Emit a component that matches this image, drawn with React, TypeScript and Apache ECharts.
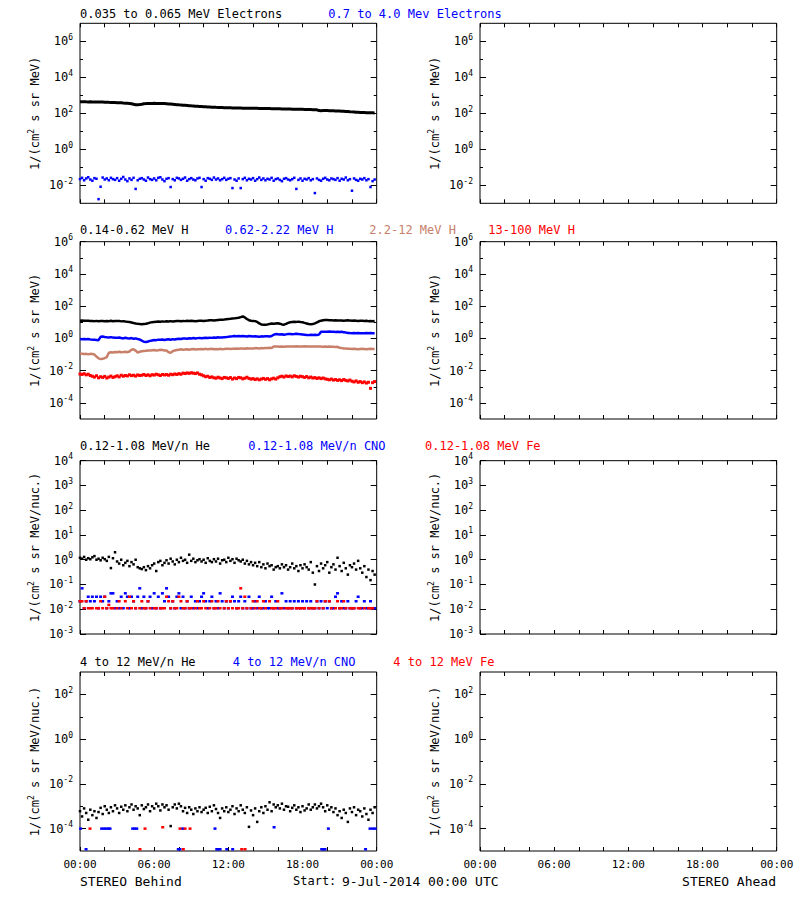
import { useEffect, useRef } from 'react';
import * as echarts from 'echarts';

const FONT = '"DejaVu Sans Mono", monospace';
const BLACK = '#000000';
const BLUE = '#0000ff';
const RED = '#ff0000';
const BROWN = '#c8806a';

// one sample every 10 minutes, 144 samples per day
const SAMPLE_HOURS = 1 / 6;

const xTickHours = [0, 6, 12, 18, 24];
const xTickLabels = ['00:00', '06:00', '12:00', '18:00', '00:00'];

// Row 1: electrons
const eLow: number[] = [
  440, 436, 438, 432, 430, 434,
  428, 430, 425, 422, 420, 418,
  415, 412, 405, 400, 396, 392,
  388, 384, 380, 372, 366, 360,
  350, 336, 315, 300, 296, 305,
  320, 336, 345, 350, 352, 355,
  356, 354, 352, 350, 348, 345,
  340, 332, 325, 318, 310, 302,
  295, 290, 284, 278, 272, 266,
  260, 255, 250, 246, 242, 238,
  234, 230, 226, 223, 220, 217,
  214, 212, 210, 208, 206, 205,
  204, 202, 200, 198, 196, 195,
  194, 193, 192, 191, 191, 190,
  190, 189, 188, 187, 186, 185,
  184, 183, 182, 181, 181, 180,
  179, 178, 176, 175, 174, 172,
  171, 170, 169, 168, 167, 166,
  166, 165, 164, 162, 161, 160,
  158, 156, 142, 140, 141, 142,
  141, 140, 139, 138, 136, 135,
  133, 131, 129, 127, 124, 121,
  120, 118, 116, 114, 112, 111,
  110, 109, 108, 107, 106, 105,
];

const eHigh: number[] = [
  0.022, 0.026, 0.019, 0.024, 0.028, 0.021, 0.018, 0.025, 0.023, 0.0017, 0.0083, 0.027,
  0.021, 0.024, 0.019, 0.026, 0.022, 0.020, 0.025, 0.018, 0.023, 0.029, 0.021, 0.017,
  0.024, 0.020, 0.026, 0.0063, 0.019, 0.023, 0.025, 0.021, 0.018, 0.027, 0.022, 0.020,
  0.024, 0.019, 0.026, 0.028, 0.021, 0.017, 0.023, 0.025, 0.008, 0.022, 0.019, 0.026,
  0.024, 0.020, 0.023, 0.027, 0.018, 0.022, 0.025, 0.021, 0.019, 0.024, 0.026, 0.008,
  0.022, 0.018, 0.025, 0.023, 0.020, 0.027, 0.021, 0.024, 0.019, 0.022, 0.026, 0.020,
  0.023, 0.025, 0.007, 0.021, 0.018, 0.024, 0.007, 0.022, 0.026, 0.019, 0.023, 0.021,
  0.025, 0.018, 0.022, 0.027, 0.020, 0.024, 0.019, 0.023, 0.021, 0.026, 0.018, 0.022,
  0.024, 0.020, 0.017, 0.023, 0.025, 0.021, 0.019, 0.022, 0.026, 0.0063, 0.020, 0.024,
  0.018, 0.023, 0.021, 0.025, 0.019, 0.022, 0.0037, 0.024, 0.020, 0.018, 0.023, 0.026,
  0.021, 0.019, 0.024, 0.022, 0.020, 0.025, 0.018, 0.023, 0.021, 0.027, 0.019, 0.022,
  0.005, 0.024, 0.020, 0.018, 0.023, 0.021, 0.025, 0.019, 0.022, 0.008, 0.017, 0.021,
];

// Row 2: protons
const hLow: number[] = [
  12.5, 12.8, 12.3, 12.6, 12.4, 12.1,
  12.0, 11.8, 12.2, 11.5, 12.0, 11.9,
  11.6, 12.1, 11.8, 12.3, 11.7, 12.0,
  11.9, 12.2, 11.4, 11.8, 11.2, 10.8,
  10.5, 9.8, 9.0, 8.4, 8.0, 7.8,
  7.6, 7.9, 8.2, 8.8, 9.5, 10.2,
  10.6, 10.9, 11.2, 10.8, 11.4, 11.0,
  11.5, 11.2, 11.8, 11.3, 11.6, 11.9,
  12.0, 11.6, 12.2, 11.8, 12.3, 12.0,
  12.4, 12.1, 11.7, 12.2, 12.5, 12.3,
  12.0, 12.6, 12.8, 13.5, 13.2, 12.9,
  13.4, 13.8, 14.2, 14.6, 15.0, 15.5,
  16.0, 16.4, 17.0, 17.5, 18.2, 19.0,
  21.0, 23.0, 20.0, 16.0, 13.5, 12.6,
  12.2, 11.8, 10.5, 8.6, 7.4, 7.0,
  7.0, 7.4, 7.9, 8.3, 8.1, 8.5,
  8.8, 8.2, 7.4, 7.1, 8.0, 9.2,
  10.0, 10.5, 10.8, 10.6, 11.0, 10.4,
  10.0, 9.2, 8.5, 7.8, 7.5, 7.9,
  8.6, 9.8, 11.5, 12.6, 13.4, 14.0,
  13.8, 13.2, 13.6, 12.9, 13.3, 13.0,
  12.8, 13.1, 12.6, 12.9, 13.2, 12.7,
  12.4, 12.8, 12.5, 12.2, 12.6, 12.3,
  12.0, 12.4, 11.8, 12.1, 11.6, 11.9,
];

const hMid: number[] = [
  0.92, 0.90, 0.93, 0.88, 0.91, 0.87,
  0.84, 0.82, 0.80, 0.78, 1.25, 1.30,
  1.22, 1.18, 1.15, 1.20, 1.12, 1.10,
  1.08, 1.15, 1.05, 1.00, 1.10, 1.02,
  0.98, 1.05, 0.95, 1.00, 0.92, 0.85,
  0.72, 0.62, 0.60, 0.64, 0.70, 0.75,
  0.80, 0.78, 0.84, 0.82, 0.86, 0.80,
  0.85, 0.88, 0.83, 0.90, 0.86, 0.92,
  0.95, 0.92, 0.98, 1.00, 0.96, 1.02,
  1.00, 1.05, 0.98, 1.04, 1.08, 1.02,
  1.06, 1.10, 1.05, 1.12, 1.08, 1.15,
  1.10, 1.18, 1.12, 1.15, 1.20, 1.22,
  1.25, 1.30, 1.35, 1.42, 1.38, 1.40,
  1.36, 1.42, 1.38, 1.33, 1.40, 1.35,
  1.30, 1.36, 1.32, 1.28, 1.34, 1.30,
  1.35, 1.38, 1.32, 1.40, 1.70, 1.85,
  1.80, 1.75, 1.82, 1.70, 1.78, 1.85,
  1.90, 1.82, 1.88, 1.95, 1.85, 1.80,
  1.75, 1.70, 1.65, 1.60, 1.68, 1.62,
  1.70, 1.65, 1.72, 2.55, 2.62, 2.60,
  2.58, 2.65, 2.55, 2.60, 2.52, 2.58,
  2.50, 2.55, 2.45, 2.30, 2.20, 2.15,
  2.12, 2.18, 2.10, 2.15, 2.08, 2.12,
  2.10, 2.16, 2.08, 2.14, 2.10, 2.12,
];

const hHigh: number[] = [
  0.110, 0.112, 0.108, 0.110, 0.105, 0.110,
  0.108, 0.100, 0.075, 0.058, 0.052, 0.055,
  0.060, 0.070, 0.130, 0.140, 0.135, 0.145,
  0.140, 0.150, 0.138, 0.142, 0.148, 0.140,
  0.155, 0.200, 0.210, 0.175, 0.130, 0.150,
  0.160, 0.165, 0.170, 0.180, 0.175, 0.185,
  0.190, 0.180, 0.185, 0.195, 0.190, 0.180,
  0.175, 0.140, 0.130, 0.160, 0.180, 0.190,
  0.200, 0.210, 0.195, 0.205, 0.215, 0.200,
  0.210, 0.220, 0.205, 0.215, 0.210, 0.220,
  0.215, 0.225, 0.210, 0.220, 0.230, 0.215,
  0.220, 0.210, 0.225, 0.215, 0.220, 0.230,
  0.225, 0.220, 0.230, 0.225, 0.235, 0.230,
  0.240, 0.235, 0.230, 0.245, 0.240, 0.235,
  0.240, 0.250, 0.245, 0.240, 0.250, 0.245,
  0.250, 0.255, 0.260, 0.250, 0.310, 0.320,
  0.315, 0.300, 0.310, 0.305, 0.315, 0.320,
  0.310, 0.320, 0.315, 0.325, 0.320, 0.315,
  0.320, 0.325, 0.310, 0.320, 0.315, 0.320,
  0.310, 0.315, 0.320, 0.310, 0.305, 0.310,
  0.300, 0.310, 0.305, 0.300, 0.295, 0.300,
  0.260, 0.250, 0.240, 0.235, 0.230, 0.225,
  0.220, 0.225, 0.220, 0.215, 0.220, 0.225,
  0.220, 0.215, 0.220, 0.225, 0.220, 0.218,
];

const hTop: number[] = [
  0.0062, 0.0058, 0.0065, 0.0055, 0.0060, 0.0050,
  0.0045, 0.0040, 0.0048, 0.0036, 0.0042, 0.0038,
  0.0044, 0.0035, 0.0040, 0.0046, 0.0038, 0.0042,
  0.0048, 0.0041, 0.0052, 0.0045, 0.0050, 0.0047,
  0.0055, 0.0049, 0.0052, 0.0046, 0.0054, 0.0050,
  0.0052, 0.0058, 0.0050, 0.0055, 0.0048, 0.0056,
  0.0053, 0.0060, 0.0055, 0.0050, 0.0058, 0.0054,
  0.0057, 0.0052, 0.0060, 0.0056, 0.0062, 0.0058,
  0.0065, 0.0060, 0.0070, 0.0066, 0.0072, 0.0068,
  0.0074, 0.0070, 0.0066, 0.0072, 0.0060, 0.0055,
  0.0048, 0.0042, 0.0045, 0.0038, 0.0041, 0.0036,
  0.0034, 0.0039, 0.0035, 0.0032, 0.0038, 0.0036,
  0.0033, 0.0037, 0.0030, 0.0035, 0.0032, 0.0038,
  0.0036, 0.0031, 0.0034, 0.0039, 0.0033, 0.0030,
  0.0032, 0.0028, 0.0031, 0.0027, 0.0030, 0.0033,
  0.0029, 0.0032, 0.0027, 0.0031, 0.0034, 0.0030,
  0.0036, 0.0042, 0.0045, 0.0040, 0.0047, 0.0043,
  0.0046, 0.0041, 0.0048, 0.0044, 0.0040, 0.0045,
  0.0042, 0.0038, 0.0043, 0.0036, 0.0040, 0.0035,
  0.0037, 0.0033, 0.0036, 0.0032, 0.0035, 0.0031,
  0.0029, 0.0027, 0.0030, 0.0026, 0.0028, 0.0025,
  0.0027, 0.0024, 0.0028, 0.0025, 0.0023, 0.0026,
  0.0022, 0.0020, 0.0023, 0.0019, 0.0021, 0.0018,
  0.0020, 0.0017, 0.0019, 0.0008, 0.0018, 0.0021,
];

// Row 3: low-energy heavy ions
const heLow: number[] = [
  1.2, 1.1, 1.3, 1.0, 1.15, 1.05,
  1.25, 1.4, 1.0, 1.1, 0.95, 1.2,
  1.05, 0.9, 1.3, 0.46, 1.15, 2.0,
  0.85, 0.7, 1.0, 0.6, 0.75, 0.9,
  0.55, 0.8, 0.65, 1.0, 0.5, 0.45,
  0.42, 0.5, 0.38, 0.55, 0.45, 0.6,
  0.7, 0.35, 0.8, 0.9, 0.6, 0.75,
  0.95, 0.7, 1.1, 0.85, 0.65, 1.0,
  0.8, 1.2, 0.9, 1.0, 0.75, 1.6,
  0.9, 1.1, 0.8, 0.95, 1.05, 0.85,
  1.0, 0.75, 1.15, 0.9, 0.8, 1.05,
  0.85, 1.1, 0.7, 0.95, 1.0, 0.8,
  1.2, 0.9, 1.05, 0.75, 1.1, 0.95,
  0.85, 1.0, 0.7, 0.9, 0.65, 0.8,
  0.6, 0.75, 0.55, 0.8, 0.5, 0.65,
  0.45, 0.7, 0.55, 0.6, 0.4, 0.5,
  0.55, 0.45, 0.65, 0.5, 0.6, 0.4,
  0.5, 0.7, 0.45, 0.55, 0.35, 0.6,
  0.45, 0.65, 0.5, 0.4, 0.8, 0.3,
  0.1, 0.55, 0.35, 0.7, 0.45, 0.6,
  0.8, 0.3, 0.5, 0.65, 0.4, 1.2,
  0.55, 0.35, 0.75, 0.45, 0.25, 0.6,
  0.5, 0.7, 0.4, 0.9, 0.45, 0.3,
  0.55, 0.2, 0.4, 0.15, 0.35, 0.25,
];

const cnoLow: (number | null)[] = [
  0.021, 0.07, 0.011, 0.021, 0.032, 0.021,
  0.032, 0.021, 0.032, 0.011, 0.032, 0.021,
  0.032, 0.011, 0.021, 0.044, 0.044, 0.011,
  0.021, 0.011, 0.032, 0.011, 0.044, 0.032,
  0.011, 0.032, 0.021, 0.011, 0.032, 0.07,
  0.011, 0.032, 0.011, 0.021, 0.032, 0.011,
  0.044, 0.011, 0.032, 0.011, 0.044, 0.021,
  0.07, 0.032, 0.011, 0.021, 0.011, 0.032,
  0.044, 0.011, 0.032, 0.011, 0.021, 0.011,
  0.032, 0.011, 0.021, 0.011, 0.021, 0.032,
  0.044, 0.021, 0.011, 0.021, 0.032, 0.011,
  0.021, 0.011, 0.044, 0.021, 0.011, 0.021,
  0.011, 0.021, 0.032, 0.021, 0.011, 0.021,
  0.032, 0.011, 0.021, 0.011, 0.032, 0.011,
  0.011, 0.021, 0.011, 0.032, 0.011, 0.011,
  0.021, 0.011, 0.011, 0.032, 0.011, 0.021,
  0.011, 0.011, 0.044, 0.011, 0.021, 0.011,
  0.021, 0.011, 0.021, 0.011, 0.021, 0.011,
  0.021, 0.011, 0.021, 0.011, 0.021, 0.011,
  0.011, 0.021, 0.011, 0.021, 0.011, 0.021,
  0.011, 0.021, 0.011, 0.011, 0.032, 0.044,
  0.011, 0.021, 0.011, 0.011, 0.021, 0.011,
  0.011, 0.011, 0.021, 0.032, 0.011, 0.011,
  0.021, 0.011, 0.011, 0.021, 0.011, 0.011,
];

const feLow: (number | null)[] = [
  0.021, 0.021, 0.011, 0.021, 0.011, 0.011,
  0.011, null, 0.011, 0.011, 0.021, 0.011,
  0.032, 0.011, 0.015, 0.011, 0.011, null,
  0.011, 0.021, 0.011, null, 0.021, 0.011,
  0.032, 0.011, 0.021, 0.011, null, 0.011,
  0.021, 0.011, 0.011, 0.021, 0.011, null,
  0.011, 0.011, null, 0.011, 0.011, 0.011,
  0.032, 0.021, 0.011, 0.021, 0.011, 0.011,
  0.032, 0.021, 0.011, 0.011, 0.021, 0.011,
  0.011, null, 0.011, 0.021, 0.011, 0.011,
  0.021, 0.011, null, 0.011, 0.021, 0.011,
  0.011, 0.021, 0.011, null, 0.011, 0.021,
  0.011, 0.021, 0.011, null, 0.011, 0.011,
  0.07, 0.011, 0.032, 0.011, null, 0.011,
  0.021, 0.011, 0.021, 0.011, 0.011, 0.021,
  0.011, null, 0.021, 0.011, 0.011, 0.011,
  0.021, 0.011, 0.011, null, 0.011, 0.011,
  0.011, 0.011, null, 0.011, 0.011, 0.011,
  0.011, 0.011, null, 0.011, 0.011, 0.011,
  0.011, 0.021, 0.011, null, 0.011, 0.021,
  null, 0.021, 0.011, null, 0.011, 0.021,
  0.011, 0.011, 0.021, 0.011, null, 0.011,
  0.011, 0.011, null, 0.011, 0.011, null,
  0.011, null, 0.011, 0.011, 0.011, null,
];

// Row 4: high-energy heavy ions
const heHigh: number[] = [
  6e-4, 3.5e-4, 8e-4, 5e-4, 2.5e-4, 7e-4,
  4e-4, 6e-4, 3e-4, 5.5e-4, 8.5e-4, 4.5e-4,
  1e-3, 7e-4, 5e-4, 9e-4, 6e-4, 1.1e-3,
  8e-4, 5e-4, 9.5e-4, 7e-4, 1.1e-3, 6e-4,
  9e-4, 1.2e-3, 7e-4, 1e-3, 8e-4, 4e-4,
  1.1e-3, 7.5e-4, 9e-4, 1.2e-3, 6e-4, 1e-3,
  8e-4, 1.3e-3, 1e-3, 6.5e-4, 1.2e-3, 9e-4,
  1.1e-3, 7e-4, 1.3e-4, 9e-4, 1.2e-3, 8e-4,
  1.3e-3, 1e-3, 6e-4, 8.5e-4, 5e-4, 9e-4,
  7e-4, 4.5e-4, 8e-4, 6e-4, 9e-4, 5.5e-4,
  7e-4, 8.5e-4, 5e-4, 9.5e-4, 6e-4, 1.1e-3,
  7.5e-4, 5e-4, 3e-4, 8e-4, 6e-4, 9e-4,
  5.5e-4, 7e-4, 1e-3, 4.5e-4, 8e-4, 6e-4,
  1.1e-3, 7e-4, 5e-4, 9e-4, 1.2e-4, 6.5e-4,
  4e-4, 8e-4, 2e-4, 6e-4, 9e-4, 5e-4,
  1e-3, 7e-4, 1.5e-3, 6e-4, 1.2e-3, 9e-4,
  1.1e-3, 8e-4, 1.3e-3, 7e-4, 1e-3, 9.5e-4,
  6e-4, 8.5e-4, 1.1e-3, 7e-4, 9e-4, 5.5e-4,
  1e-3, 6.5e-4, 8e-4, 1.2e-3, 7e-4, 9e-4,
  1.2e-3, 8e-4, 1e-3, 1.3e-3, 9e-4, 6e-4,
  1.1e-3, 7e-4, 9e-4, 5.5e-4, 8e-4, 4e-4,
  6e-4, 3e-4, 7e-4, 5e-4, 2e-4, 8e-4,
  5.5e-4, 9e-4, 4e-4, 7e-4, 6e-4, 3.5e-4,
  8e-4, 4.5e-4, 2.5e-4, 7e-4, 5e-4, 9e-4,
];

// sparse [hour, flux] detections
const cnoHigh: [number, number][] = [
  [0.05, 1e-4], [0.49, 1.2e-5], [1.75, 1e-4], [1.94, 1e-4], [2.1, 1e-4], [2.29, 1e-4], [2.43, 1e-4],
  [4.26, 1e-4], [4.42, 1e-4], [4.59, 1e-4], [7.95, 1.2e-5], [8.09, 1.2e-5], [8.3, 1e-4],
  [10.92, 1e-4], [11.06, 1.2e-5], [11.19, 1.2e-5], [11.33, 1.2e-5], [11.87, 1.2e-5], [12.35, 1.2e-5],
  [15.7, 1.15e-4], [19.55, 1.2e-5], [19.7, 1.2e-5], [19.82, 1.2e-5], [20.09, 1e-4],
  [23.1, 1.2e-5], [23.46, 1e-4], [23.68, 1e-4], [23.87, 1e-4],
];

const feHigh: [number, number][] = [
  [0.81, 1e-4], [4.85, 1.2e-5], [5.26, 1e-4], [6.69, 1.15e-4], [8.09, 1e-4], [8.36, 1.2e-5],
  [8.5, 1e-4], [8.9, 1e-4], [13.08, 1.2e-5], [13.35, 1.2e-5],
];

// layout
const colLefts = [80, 480];
const panelWidth = 296.7;
const panelTops = [23.3, 241.7, 460.7, 672];
const panelHeights = [180, 177.3, 173.3, 179];

// decades (log10 exponents)
const yMins = [-3, -5, -3, -5];
const yMaxs = [7, 6, 4, 3];
const yMajors = [[-2, 0, 2, 4, 6], [-4, -2, 0, 2, 4, 6], [-3, -2, -1, 0, 1, 2, 3, 4], [-4, -2, 0, 2]];
const yMinors = [[-1, 1, 3, 5], [-3, -1, 1, 3, 5], [], [-3, -1, 1]];
const yNames = [
  '1/(cm{s|2} s sr MeV)',
  '1/(cm{s|2} s sr MeV)',
  '1/(cm{s|2} s sr MeV/nuc.)',
  '1/(cm{s|2} s sr MeV/nuc.)',
];

const titles = [
  [
    { text: '0.035 to 0.065 MeV Electrons', x: 80, color: BLACK },
    { text: '0.7 to 4.0 Mev Electrons', x: 328.3, color: BLUE },
  ],
  [
    { text: '0.14-0.62 MeV H', x: 80, color: BLACK },
    { text: '0.62-2.22 MeV H', x: 225, color: BLUE },
    { text: '2.2-12 MeV H', x: 369.3, color: BROWN },
    { text: '13-100 MeV H', x: 488.3, color: RED },
  ],
  [
    { text: '0.12-1.08 MeV/n He', x: 80, color: BLACK },
    { text: '0.12-1.08 MeV/n CNO', x: 248.3, color: BLUE },
    { text: '0.12-1.08 MeV Fe', x: 425, color: RED },
  ],
  [
    { text: '4 to 12 MeV/n He', x: 80, color: BLACK },
    { text: '4 to 12 MeV/n CNO', x: 232.7, color: BLUE },
    { text: '4 to 12 MeV Fe', x: 393.3, color: RED },
  ],
];
const titleYs = [14, 229.8, 445.5, 662];

const footer = [
  { text: 'STEREO Behind', x: 80, align: 'left', size: 13 },
  { text: 'Start:', x: 293, align: 'left', size: 12 },
  { text: '9-Jul-2014 00:00 UTC', x: 342, align: 'left', size: 13 },
  { text: 'STEREO Ahead', x: 776, align: 'right', size: 13 },
];
const footerY = 881;

const seriesPts = (arr: (number | null)[]) =>
  arr
    .map((v, i) => (v == null ? null : [i * SAMPLE_HOURS, Math.log10(v)]))
    .filter((p) => p !== null);
const pairPts = (arr: [number, number][]) => arr.map(([h, v]) => [h, Math.log10(v)]);

function buildOption() {
  const grid: any[] = [];
  const xAxis: any[] = [];
  const yAxis: any[] = [];
  const series: any[] = [];
  const tickColor = { color: '#000', width: 1 };

  for (let r = 0; r < 4; r++) {
    for (let c = 0; c < 2; c++) {
      const g = r * 2 + c;
      grid.push({
        left: colLefts[c],
        top: panelTops[r],
        width: panelWidth,
        height: panelHeights[r],
        show: true,
        borderColor: '#000',
        borderWidth: 1,
        backgroundColor: 'transparent',
        containLabel: false,
        outerBoundsMode: 'none',
      });
      for (const pos of ['bottom', 'top']) {
        xAxis.push({
          type: 'value',
          gridIndex: g,
          position: pos,
          min: 0,
          max: 24,
          interval: 6,
          axisLine: { show: false, onZero: false },
          splitLine: { show: false },
          minorSplitLine: { show: false },
          axisTick: { show: true, inside: true, length: 4, lineStyle: tickColor },
          minorTick: { show: true, splitNumber: 3, length: 4, lineStyle: tickColor },
          axisLabel: {
            show: r === 3 && pos === 'bottom',
            margin: 8,
            color: '#000',
            fontFamily: FONT,
            fontSize: 11,
            formatter: (v: number) => {
              const idx = xTickHours.indexOf(Math.round(v));
              return idx >= 0 ? xTickLabels[idx] : '';
            },
          },
        });
      }
      const base = {
        type: 'value',
        gridIndex: g,
        min: yMins[r],
        max: yMaxs[r],
        axisLine: { show: false, onZero: false },
        splitLine: { show: false },
      };
      // left major (labels + name)
      yAxis.push({
        ...base,
        position: 'left',
        axisTick: { show: true, inside: true, length: 6, lineStyle: tickColor, customValues: yMajors[r] },
        axisLabel: {
          show: true,
          customValues: yMajors[r],
          margin: 7,
          formatter: (v: number) => `{b|10}{s|${Math.round(v)}}`,
          rich: {
            b: { fontSize: 12, fontFamily: FONT, color: '#000', lineHeight: 16 },
            s: { fontSize: 8, fontFamily: FONT, color: '#000', lineHeight: 10, verticalAlign: 'top' },
          },
        },
        name: yNames[r],
        nameLocation: 'middle',
        nameGap: 37,
        nameRotate: 90,
        nameTextStyle: {
          fontSize: 12,
          fontFamily: FONT,
          color: '#000',
          lineHeight: 16,
          rich: {
            s: { fontSize: 8, fontFamily: FONT, color: '#000', lineHeight: 10, verticalAlign: 'top' },
          },
        },
      });
      // left minor
      yAxis.push({
        ...base,
        position: 'left',
        axisTick: { show: yMinors[r].length > 0, inside: true, length: 3, lineStyle: tickColor, customValues: yMinors[r] },
        axisLabel: { show: false },
      });
      // right major
      yAxis.push({
        ...base,
        position: 'right',
        axisTick: { show: true, inside: true, length: 6, lineStyle: tickColor, customValues: yMajors[r] },
        axisLabel: { show: false },
      });
      // right minor
      yAxis.push({
        ...base,
        position: 'right',
        axisTick: { show: yMinors[r].length > 0, inside: true, length: 3, lineStyle: tickColor, customValues: yMinors[r] },
        axisLabel: { show: false },
      });
    }
  }

  const line = (row: number, data: any[], color: string, width = 3) => ({
    type: 'line',
    xAxisIndex: row * 4,
    yAxisIndex: row * 8,
    data,
    symbol: 'none',
    showSymbol: false,
    lineStyle: { color, width },
    itemStyle: { color },
    silent: true,
    clip: true,
  });
  const dots = (row: number, data: any[], color: string, size: any = 2.5) => ({
    type: 'scatter',
    xAxisIndex: row * 4,
    yAxisIndex: row * 8,
    data,
    symbol: 'rect',
    symbolSize: size,
    itemStyle: { color, opacity: 1 },
    silent: true,
    clip: true,
  });

  series.push(line(0, seriesPts(eLow), BLACK, 3));
  series.push(dots(0, seriesPts(eHigh), BLUE, 2.5));

  series.push(line(1, seriesPts(hLow), BLACK, 2.5));
  series.push(line(1, seriesPts(hMid), BLUE, 2.5));
  series.push(line(1, seriesPts(hHigh), BROWN, 2.5));
  series.push(dots(1, seriesPts(hTop), RED, 3));

  series.push(dots(2, seriesPts(heLow), BLACK, 2.5));
  series.push(dots(2, seriesPts(cnoLow), BLUE, [3, 2.5]));
  series.push(dots(2, seriesPts(feLow), RED, [3, 2.5]));

  series.push(dots(3, seriesPts(heHigh), BLACK, 2.5));
  series.push(dots(3, pairPts(cnoHigh), BLUE, [3, 2.5]));
  series.push(dots(3, pairPts(feHigh), RED, [3, 2.5]));

  const graphic: any[] = [];
  titles.forEach((row, r) => {
    row.forEach((t) => {
      graphic.push({
        type: 'text',
        x: t.x,
        y: titleYs[r],
        silent: true,
        style: {
          text: t.text,
          fill: t.color,
          fontSize: 12,
          fontFamily: FONT,
          align: 'left',
          verticalAlign: 'middle',
        },
      });
    });
  });
  footer.forEach((f) => {
    graphic.push({
      type: 'text',
      x: f.x,
      y: footerY,
      silent: true,
      style: {
        text: f.text,
        fill: '#000',
        fontSize: f.size,
        fontFamily: FONT,
        align: f.align,
        verticalAlign: 'middle',
      },
    });
  });

  return {
    animation: false,
    backgroundColor: '#ffffff',
    grid,
    xAxis,
    yAxis,
    series,
    graphic,
  };
}

export default function App() {
  const ref = useRef<HTMLDivElement>(null);
  useEffect(() => {
    if (!ref.current) return;
    const chart = echarts.init(ref.current, undefined, { renderer: 'svg' });
    chart.setOption(buildOption());
    return () => chart.dispose();
  }, []);
  return (
    <div
      ref={ref}
      style={{ position: 'absolute', left: 0, top: 0, width: 800, height: 900, background: '#fff' }}
    />
  );
}
